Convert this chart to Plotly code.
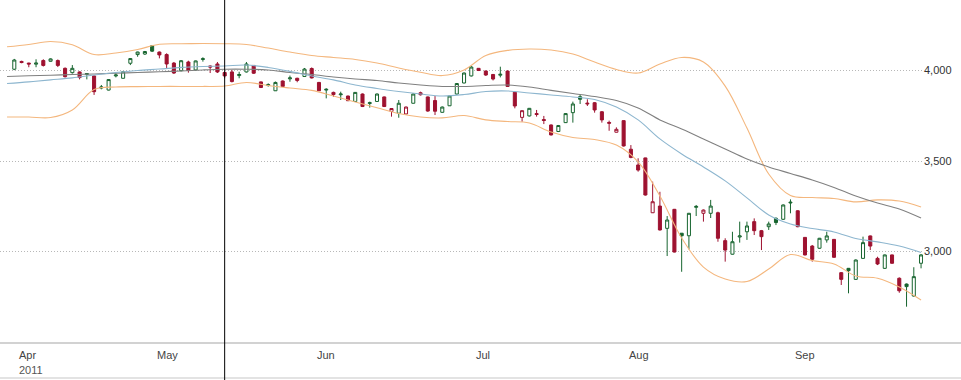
import plotly.graph_objects as go
import pandas as pd

# ---------------- data ----------------
holidays = ["2011-04-22", "2011-04-25"]
dates = [d.strftime("%Y-%m-%d") for d in pd.bdate_range("2011-04-01", "2011-09-27")
         if d.strftime("%Y-%m-%d") not in holidays]

opens = [4007,4050,4041,4035,4055,4051,4055,4012,3988,3992, 3978,3970,3903,3892,3970,3957,4040,4088,4091,4137,
         4102,4088,4041,3999,4047,4003,4061,4025,4036,3989, 3992,3972,3992,4028,3937,3917,3888,3942,3954,3957,
         3967,4011,3934,3892,3879,3866,3859,3829,3870,3818, 3829,3854,3774,3764,3760,3819,3877,3854,3834,3769,
         3805,3870,3931,3970,4012,3997,3978,3974,3997,3880, 3741,3749,3762,3729,3699,3663,3712,3767,3855,3820,
         3822,3772,3713,3659,3723,3565,3478,3517,3214,3251, 3128,3233,3101,3087,3244,3211,3211,3214,3060,2985,
         3080,3109,3165,3115,3137,3183,3178,3268,3225,3078, 3030,3018,3064,3067,2883,2907,2846,2962,3086,2962,
         2907,2981,2852,2820,2754,2935]
highs = [4064,4054,4043,4062,4062,4067,4061,4017,4030,3995, 3985,3972,3920,3953,3985,3997,4069,4104,4108,4141,
         4105,4095,4047,4058,4054,4055,4073,4028,4047,3995, 4003,3993,4047,4030,3939,3929,3939,3945,3972,3960,
         4014,4017,3937,3902,3883,3883,3861,3881,3873,3828, 3873,3856,3791,3837,3801,3873,3883,3856,3859,3801,
         3862,3931,3989,4025,4014,4000,3981,4021,4000,3883, 3779,3793,3782,3749,3702,3699,3765,3828,3869,3841,
         3826,3776,3723,3686,3724,3588,3515,3518,3386,3330, 3196,3235,3102,3213,3257,3232,3285,3220,3073,3109,
         3165,3165,3183,3119,3165,3189,3260,3288,3228,3080, 3036,3075,3109,3069,2886,2909,2956,3082,3088,2971,
         2983,2983,2857,2823,2913,2986]
lows = [4002,4040,4018,4018,4022,4049,4019,3961,3983,3951, 3951,3865,3896,3890,3962,3956,4030,4076,4086,4102,
        4067,4014,3981,3995,3988,4000,4049,3986,3986,3957, 3934,3957,3989,3981,3903,3911,3887,3909,3938,3935,
        3964,3956,3887,3846,3855,3837,3832,3826,3798,3795, 3826,3798,3745,3739,3757,3818,3862,3772,3754,3767,
        3804,3867,3929,3967,3997,3970,3945,3962,3909,3791, 3717,3746,3745,3704,3641,3660,3710,3712,3815,3804,
        3767,3712,3667,3658,3580,3515,3441,3309,3213,3116, 2975,2995,2888,3012,3196,3165,3185,3054,2944,2983,
        3049,3064,3091,3008,3119,3146,3175,3211,3134,2978, 2944,3015,3049,2965,2815,2769,2844,2960,3008,2925,
        2904,2932,2772,2695,2751,2907]
closes = [4058,4044,4036,4041,4028,4064,4028,3966,4012,3961, 3983,3883,3909,3950,3975,3993,4066,4102,4105,4107,
          4086,4036,3986,4054,4000,4053,4065,4019,3992,3970, 3939,3978,4036,3985,3906,3922,3934,3912,3959,3945,
          4008,3959,3888,3896,3867,3870,3833,3879,3801,3822, 3870,3801,3790,3819,3798,3870,3866,3776,3775,3798,
          3859,3928,3986,4019,4000,3975,3953,3979,3912,3804, 3778,3791,3757,3724,3644,3696,3762,3815,3841,3816,
          3782,3727,3709,3675,3583,3520,3450,3312,3275,3119, 3174,2997,3087,3211,3249,3229,3251,3073,3008,3054,
          3086,3141,3115,3082,3152,3160,3257,3272,3137,2981, 2957,3073,3086,2968,2846,2894,2953,3049,3030,2931,
          2981,2935,2783,2806,2861,2981]

line_dates = ["2011-03-31","2011-04-05","2011-04-08","2011-04-13","2011-04-18","2011-04-21","2011-04-28",
              "2011-05-03","2011-05-06","2011-05-11","2011-05-16","2011-05-19","2011-05-24","2011-05-27",
              "2011-06-01","2011-06-06","2011-06-09","2011-06-14","2011-06-17","2011-06-22","2011-06-27",
              "2011-06-30","2011-07-05","2011-07-08","2011-07-13","2011-07-18","2011-07-21","2011-07-26",
              "2011-07-29","2011-08-03","2011-08-08","2011-08-11","2011-08-16","2011-08-19","2011-08-24",
              "2011-08-29","2011-09-01","2011-09-06","2011-09-09","2011-09-14","2011-09-19","2011-09-22",
              "2011-09-27"]
upper_band = [4131,4144,4160,4142,4088,4097,4116,4145,4148,4149,4148,4144,4124,4102,4083,4072,4061,4041,4014,
              3990,3972,4003,4083,4111,4119,4113,4091,4047,4006,3986,4036,4072,4047,3914,3682,3428,3309,3298,
              3293,3274,3285,3279,3246]
lower_band = [3743,3743,3740,3782,3895,3909,3911,3912,3912,3912,3914,3934,3917,3903,3890,3859,3826,3794,3762,
              3743,3738,3751,3727,3718,3710,3660,3630,3619,3588,3495,3307,3075,2914,2848,2834,2903,2983,2950,
              2931,2865,2852,2804,2732]
avg_short = [3928,3937,3948,3959,3975,3989,4000,4008,4017,4022,4025,4030,4017,3995,3970,3948,3920,3901,3884,
             3870,3859,3867,3884,3887,3876,3865,3854,3840,3798,3727,3622,3539,3467,3390,3296,3202,3152,3127,
             3108,3072,3053,3030,2995]
avg_long = [3967,3971,3974,3978,3981,3985,3989,3993,3997,4003,4007,4007,4003,3989,3978,3964,3953,3945,3931,
            3920,3912,3912,3917,3920,3909,3890,3873,3856,3834,3793,3727,3677,3622,3566,3511,3467,3431,3395,
            3354,3307,3268,3235,3185]

month_ticks = ["2011-04-01", "2011-05-02", "2011-06-01", "2011-07-01", "2011-08-01", "2011-09-01"]
month_labels = ["Apr", "May", "Jun", "Jul", "Aug", "Sep"]
year_label = "2011"
y_ticks = [3000, 3500, 4000]
cursor_date = "2011-05-16"

# ---------------- figure ----------------
pos = {d: i for i, d in enumerate(dates)}
pos["2011-03-31"] = -1
lx = [pos[d] for d in line_dates]

GREEN = "#17652f"
RED = "#9e1230"
ORANGE = "#f4b77e"
BLUE = "#8db6cf"
GRAY = "#808080"
FONT = "Liberation Sans, Arial, sans-serif"

fig = go.Figure()
for vals, col in [(upper_band, ORANGE), (lower_band, ORANGE), (avg_long, GRAY), (avg_short, BLUE)]:
    fig.add_trace(go.Scatter(x=lx, y=vals, mode="lines", line=dict(color=col, width=1.1, shape="spline"),
                             hoverinfo="skip", showlegend=False))

groups = {("hollow", GREEN): [], ("filled", RED): [], ("hollow", RED): [], ("filled", GREEN): []}
for i in range(len(dates)):
    prev = closes[i - 1] if i > 0 else opens[i]
    col = GREEN if closes[i] >= prev else RED
    kind = "hollow" if closes[i] > opens[i] else "filled"
    groups[(kind, col)].append(i)

for (kind, col), idx in groups.items():
    if not idx:
        continue
    fill = "white" if kind == "hollow" else col
    style = dict(line=dict(color=col, width=1), fillcolor=fill)
    fig.add_trace(go.Candlestick(
        x=idx, open=[opens[i] for i in idx], high=[highs[i] for i in idx],
        low=[lows[i] for i in idx], close=[closes[i] for i in idx],
        increasing=style, decreasing=style, whiskerwidth=0, hoverinfo="skip", showlegend=False))

W, H = 961, 380
L, R, T, B = 0, 38, 0, 37
plot_w = W - L - R
plot_h = H - T - B

shapes = [
    dict(type="line", xref="paper", yref="paper", x0=0, x1=W / plot_w, y0=0, y1=0,
         line=dict(color="#d2d2d2", width=2)),
    dict(type="line", xref="paper", yref="paper", x0=0, x1=W / plot_w, y0=-35 / plot_h, y1=-35 / plot_h,
         line=dict(color="#dadada", width=1.5)),
    dict(type="line", xref="x", yref="paper", x0=pos[cursor_date], x1=pos[cursor_date],
         y0=-B / plot_h, y1=1, line=dict(color="black", width=1)),
]

annotations = []
for d, lab in zip(month_ticks, month_labels):
    annotations.append(dict(x=pos[d], y=-12 / plot_h, xref="x", yref="paper", text=lab, showarrow=False,
                            xanchor="left", yanchor="middle", xshift=3,
                            font=dict(family=FONT, size=11, color="#444444")))
annotations.append(dict(x=pos[month_ticks[0]], y=-27 / plot_h, xref="x", yref="paper", text=year_label,
                        showarrow=False, xanchor="left", yanchor="middle", xshift=3,
                        font=dict(family=FONT, size=11, color="#555555")))

fig.update_layout(
    width=W, height=H, margin=dict(l=L, r=R, t=T, b=B),
    paper_bgcolor="white", plot_bgcolor="white",
    font=dict(family=FONT, size=11, color="#333333"),
    showlegend=False, shapes=shapes, annotations=annotations,
    hovermode=False, boxgap=0.4,
    xaxis=dict(range=[-14.3 / 7.254, (plot_w - 14.3) / 7.254], showgrid=False, zeroline=False,
               showticklabels=False, showline=False, ticks="", rangeslider=dict(visible=False),
               fixedrange=True),
    yaxis=dict(range=[4000 - (plot_h - 70.5) * 5.525, 4000 + 70.5 * 5.525], side="right",
               tickvals=y_ticks, tickformat=",", showgrid=True, gridcolor="#b8b8b8", griddash="1px,2px",
               gridwidth=1, zeroline=False, showline=False, ticks="", automargin=False,
               tickfont=dict(family=FONT, size=11, color="#333333"), fixedrange=True),
)

fig.write_html("out.html", config={"displayModeBar": False},
               post_script="document.body.style.margin='0';document.body.style.overflow='hidden';")
